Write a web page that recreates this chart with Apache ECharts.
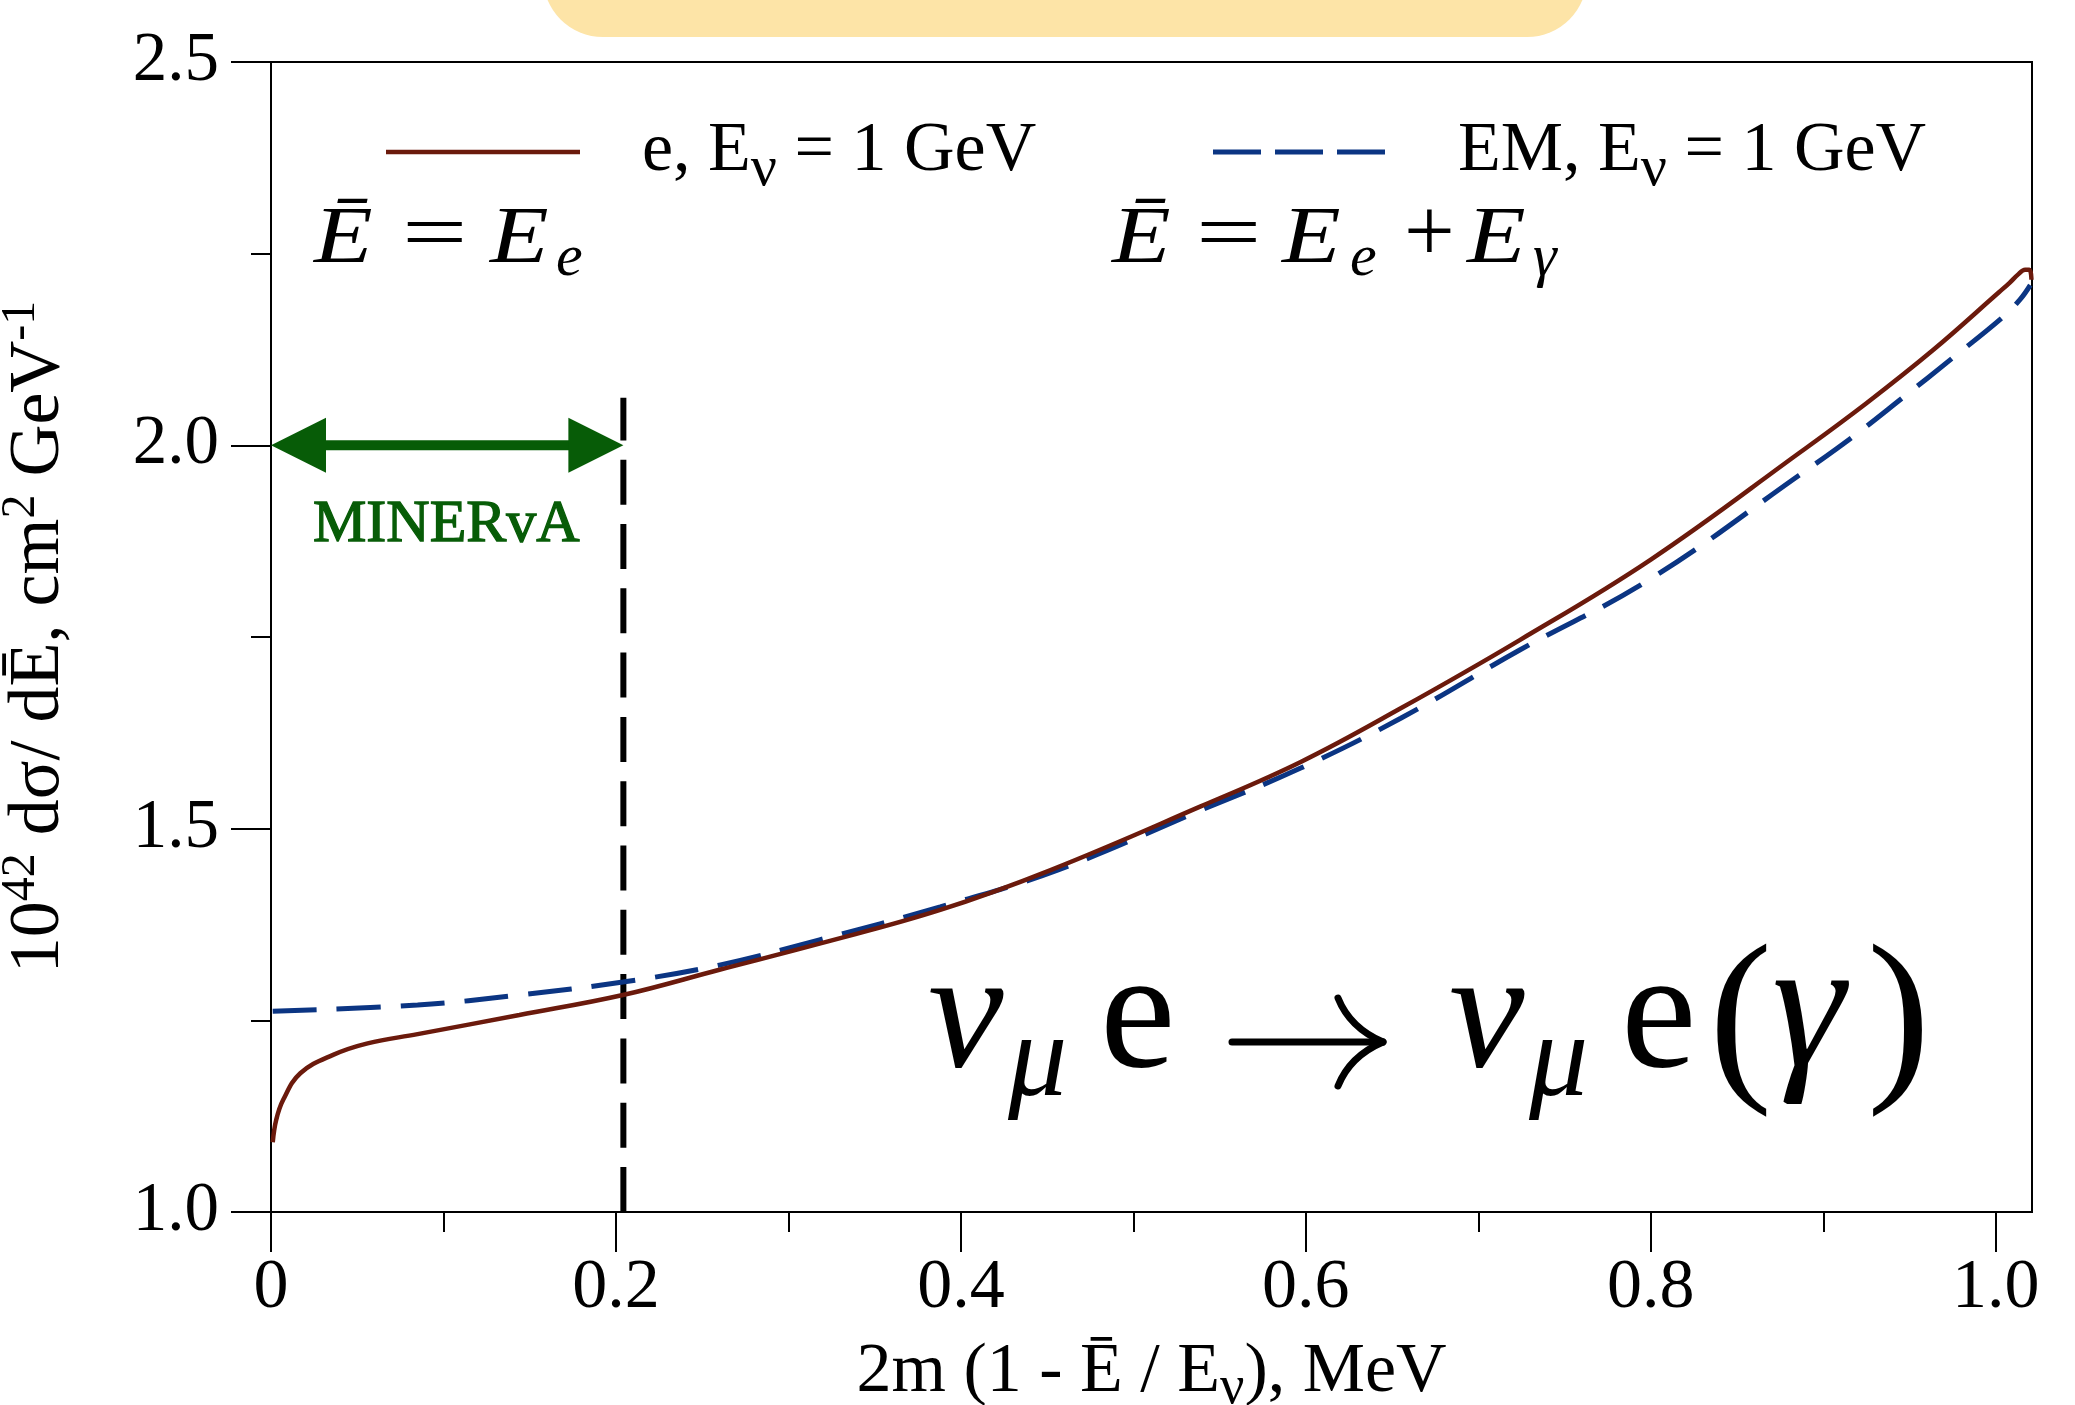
<!DOCTYPE html>
<html><head><meta charset="utf-8">
<script src="https://cdn.jsdelivr.net/npm/echarts@6/dist/echarts.min.js"></script>
<style>html,body{margin:0;padding:0;background:#fff}#c{width:2075px;height:1405px}</style>
</head><body><div id="c"></div><script>
// ---- data ----
const eX = [0.001, 0.003, 0.007, 0.017, 0.036, 0.056, 0.085, 0.144, 0.204, 0.260, 0.318, 0.388, 0.452, 0.539, 0.597, 0.655, 0.724, 0.800, 0.886, 0.925, 0.964, 1.002, 1.008, 1.013, 1.017, 1.0195, 1.0207];
const eY = [1.091, 1.120, 1.146, 1.181, 1.205, 1.220, 1.232, 1.257, 1.283, 1.316, 1.350, 1.394, 1.446, 1.529, 1.587, 1.657, 1.746, 1.851, 1.990, 2.055, 2.125, 2.200, 2.212, 2.223, 2.229, 2.229, 2.216];
const emX = [0.001, 0.085, 0.144, 0.204, 0.260, 0.318, 0.388, 0.456, 0.539, 0.597, 0.655, 0.724, 0.800, 0.886, 0.917, 0.946, 0.975, 1.004, 1.014, 1.020];
const emY = [1.262, 1.270, 1.283, 1.300, 1.322, 1.355, 1.398, 1.446, 1.524, 1.579, 1.644, 1.733, 1.826, 1.961, 2.011, 2.062, 2.114, 2.167, 2.190, 2.209];
const xMajorTicks = [0, 0.2, 0.4, 0.6, 0.8, 1.0];
const xMinorTicks = [0.1, 0.3, 0.5, 0.7, 0.9];
const xRange = [0, 1.021];
const yRange = [1.0, 2.5];
const yInterval = 0.5;
const cutX = 0.2043;          // MINERvA threshold (vertical dashed line)
const cutY = [1.0, 2.062];
const arrowX = [0, 0.2043];   // MINERvA arrow
const arrowY = 2.0;
const seriesNames = ['e', 'EM'];

const FONT = '"Liberation Serif","Times New Roman",serif';
const RED = '#6b1a0c', BLUE = '#0b3583', GREEN = '#075c07';
const zip = (a, b) => a.map((v, i) => [v, b[i]]);

function T(x, base, text, fs, italic, color, sx) {
  return { type: 'text', x: x, y: base - 0.305 * fs, z: 100, scaleX: sx || 1, originX: 0, originY: 0,
    style: { text: text, fontSize: fs, fontFamily: FONT, fontStyle: italic ? 'italic' : 'normal',
      fill: color || '#000', verticalAlign: 'middle', align: 'left' } };
}
const ARW = { stroke: '#000', lineWidth: 7, lineCap: 'round', fill: 'none' };

const chart = echarts.init(document.getElementById('c'), null, { renderer: 'canvas' });
const legendRich = {
  a0: { fontSize: 70, fontFamily: FONT, color: '#000', padding: [0, 0, 0, 57] },
  b0: { fontSize: 70, fontFamily: FONT, color: '#000', padding: [0, 0, 0, 68] },
  a: { fontSize: 70, fontFamily: FONT, color: '#000' },
  s: { fontSize: 58, fontFamily: FONT, color: '#000', padding: [36, 0, 0, 0] }
};

chart.setOption({
  animation: false,
  backgroundColor: '#fff',
  grid: { left: 271, right: 43, top: 62, bottom: 193, containLabel: false, outerBoundsMode: 'none',
    show: true, borderColor: '#000', borderWidth: 2, backgroundColor: 'transparent' },
  legend: [
    { data: [seriesNames[0]], left: 386, top: 117, padding: 0, itemWidth: 194, itemHeight: 4.5, icon: 'rect',
      selectedMode: false, formatter: () => '{a0|e, E}{s|ν}{a| = 1 GeV}', textStyle: { rich: legendRich } },
    { data: [seriesNames[1]], left: 1213, top: 117, padding: 0, itemWidth: 172, itemHeight: 5,
      icon: 'path://M0,0H48V5H0Z M62,0H110V5H62Z M124,0H172V5H124Z',
      selectedMode: false, formatter: () => '{b0|EM, E}{s|ν}{a| = 1 GeV}', textStyle: { rich: legendRich } }
  ],
  xAxis: [
    { type: 'value', min: xRange[0], max: xRange[1], position: 'bottom',
      axisLine: { show: true, onZero: false, lineStyle: { color: '#000', width: 2 } },
      axisTick: { show: true, length: 40, customValues: xMajorTicks, lineStyle: { color: '#000', width: 2 } },
      axisLabel: { customValues: xMajorTicks, margin: 42, fontSize: 70, fontFamily: FONT, color: '#000',
        formatter: v => v === 0 ? '0' : v.toFixed(1) },
      splitLine: { show: false },
      name: '{a|2m (1 - Ē / E}{s|ν}{a|), MeV}', nameLocation: 'middle', nameGap: 118,
      nameTextStyle: { rich: {
        a: { fontSize: 70, fontFamily: FONT, color: '#000' },
        s: { fontSize: 54, fontFamily: FONT, color: '#000', padding: [32, 0, 0, 0] } } } },
    { type: 'value', min: xRange[0], max: xRange[1], position: 'bottom', offset: 0,
      axisLine: { show: false },
      axisTick: { show: true, length: 20, customValues: xMinorTicks, lineStyle: { color: '#000', width: 2 } },
      axisLabel: { show: false }, splitLine: { show: false } }
  ],
  yAxis: {
    type: 'value', min: yRange[0], max: yRange[1], interval: yInterval,
    axisLine: { show: true, onZero: false, lineStyle: { color: '#000', width: 2 } },
    axisTick: { show: true, length: 40, lineStyle: { color: '#000', width: 2 } },
    minorTick: { show: true, splitNumber: 2, length: 20, lineStyle: { color: '#000', width: 2 } },
    axisLabel: { margin: 52, fontSize: 69, fontFamily: FONT, color: '#000', formatter: v => v.toFixed(1) },
    splitLine: { show: false }, minorSplitLine: { show: false },
    name: '{a|10}{p|42}{a| dσ/ dĒ, cm}{p|2}{a| GeV}{p|-1}', nameLocation: 'middle', nameRotate: 90, nameGap: 190,
    nameTextStyle: { rich: {
      a: { fontSize: 72, fontFamily: FONT, color: '#000' },
      p: { fontSize: 48, fontFamily: FONT, color: '#000', padding: [0, 0, 36, 0] } } }
  },
  series: [
    { name: seriesNames[0], type: 'line', data: zip(eX, eY), showSymbol: false, symbol: 'none',
      smooth: 0.4, color: RED, lineStyle: { color: RED, width: 4.5 }, z: 5 },
    { name: seriesNames[1], type: 'line', data: zip(emX, emY), showSymbol: false, symbol: 'none',
      smooth: 0.4, color: BLUE, lineStyle: { color: BLUE, width: 5, type: [44, 20] }, z: 4 },
    { name: 'cut', type: 'line', data: [[cutX, cutY[0]], [cutX, cutY[1]]], showSymbol: false, symbol: 'none',
      lineStyle: { color: '#000', width: 6, type: [45, 19.3], cap: 'butt' }, z: 3, silent: true },
    { name: 'arrowShaft', type: 'line', data: [[arrowX[0] + 0.02, arrowY], [arrowX[1] - 0.02, arrowY]],
      showSymbol: false, symbol: 'none', silent: true, color: GREEN,
      lineStyle: { color: GREEN, width: 10 }, z: 6 },
    { name: 'arrowHeads', type: 'scatter', silent: true, z: 7, color: GREEN,
      itemStyle: { color: GREEN, opacity: 1 },
      data: [
        { value: [arrowX[0], arrowY], symbol: 'triangle', symbolSize: [55, 55], symbolRotate: 90, symbolOffset: [27.5, 0] },
        { value: [arrowX[1], arrowY], symbol: 'triangle', symbolSize: [55, 55], symbolRotate: -90, symbolOffset: [-27.5, 0] }
      ] }
  ],
  graphic: [
    { type: 'rect', shape: { x: 543, y: -25, width: 1044, height: 62, r: [0, 0, 60, 60] }, style: { fill: '#fde4a7' }, z: 100 },
    { type: 'text', x: 313, y: 544 - 0.305 * 60, z: 100,
      style: { text: 'MINERvA', fontSize: 60, fontFamily: FONT, fill: GREEN, stroke: GREEN, lineWidth: 1.3,
        verticalAlign: 'middle', align: 'left' } },
    // E-bar = E_e
    T(314, 265, 'Ē', 80, true, null, 1.2), T(402, 262, '=', 80, false, null, 1.45), T(490, 265, 'E', 80, true, null, 1.2), T(556, 278, 'e', 60, true),
    // E-bar = E_e + E_gamma
    T(1112, 265, 'Ē', 80, true, null, 1.2), T(1196, 262, '=', 80, false, null, 1.45), T(1282, 265, 'E', 80, true, null, 1.2), T(1350, 278, 'e', 60, true),
    T(1404, 265, '+', 90, false), T(1467, 265, 'E', 80, true, null, 1.2), T(1533, 278, 'γ', 60, true),
    // nu_mu e -> nu_mu e(gamma)
    T(928, 1073, 'ν', 170, true), T(1008, 1100, 'μ', 118, true), T(1100, 1073, 'e', 170, false),
    { type: 'line', z: 100, shape: { x1: 1232, y1: 1042, x2: 1378, y2: 1042 }, style: ARW },
    { type: 'bezierCurve', z: 100, shape: { x1: 1383, y1: 1042, cpx1: 1362, cpy1: 1033, cpx2: 1346, cpy2: 1018, x2: 1338, y2: 998 }, style: ARW },
    { type: 'bezierCurve', z: 100, shape: { x1: 1383, y1: 1042, cpx1: 1362, cpy1: 1051, cpx2: 1346, cpy2: 1066, x2: 1338, y2: 1086 }, style: ARW },
    T(1449, 1073, 'ν', 170, true), T(1529, 1100, 'μ', 118, true), T(1621, 1073, 'e', 170, false),
    T(1709, 1084, '(', 190, false), T(1772, 1073, 'γ', 185, true), T(1867, 1084, ')', 190, false)
  ]
});
</script></body></html>
